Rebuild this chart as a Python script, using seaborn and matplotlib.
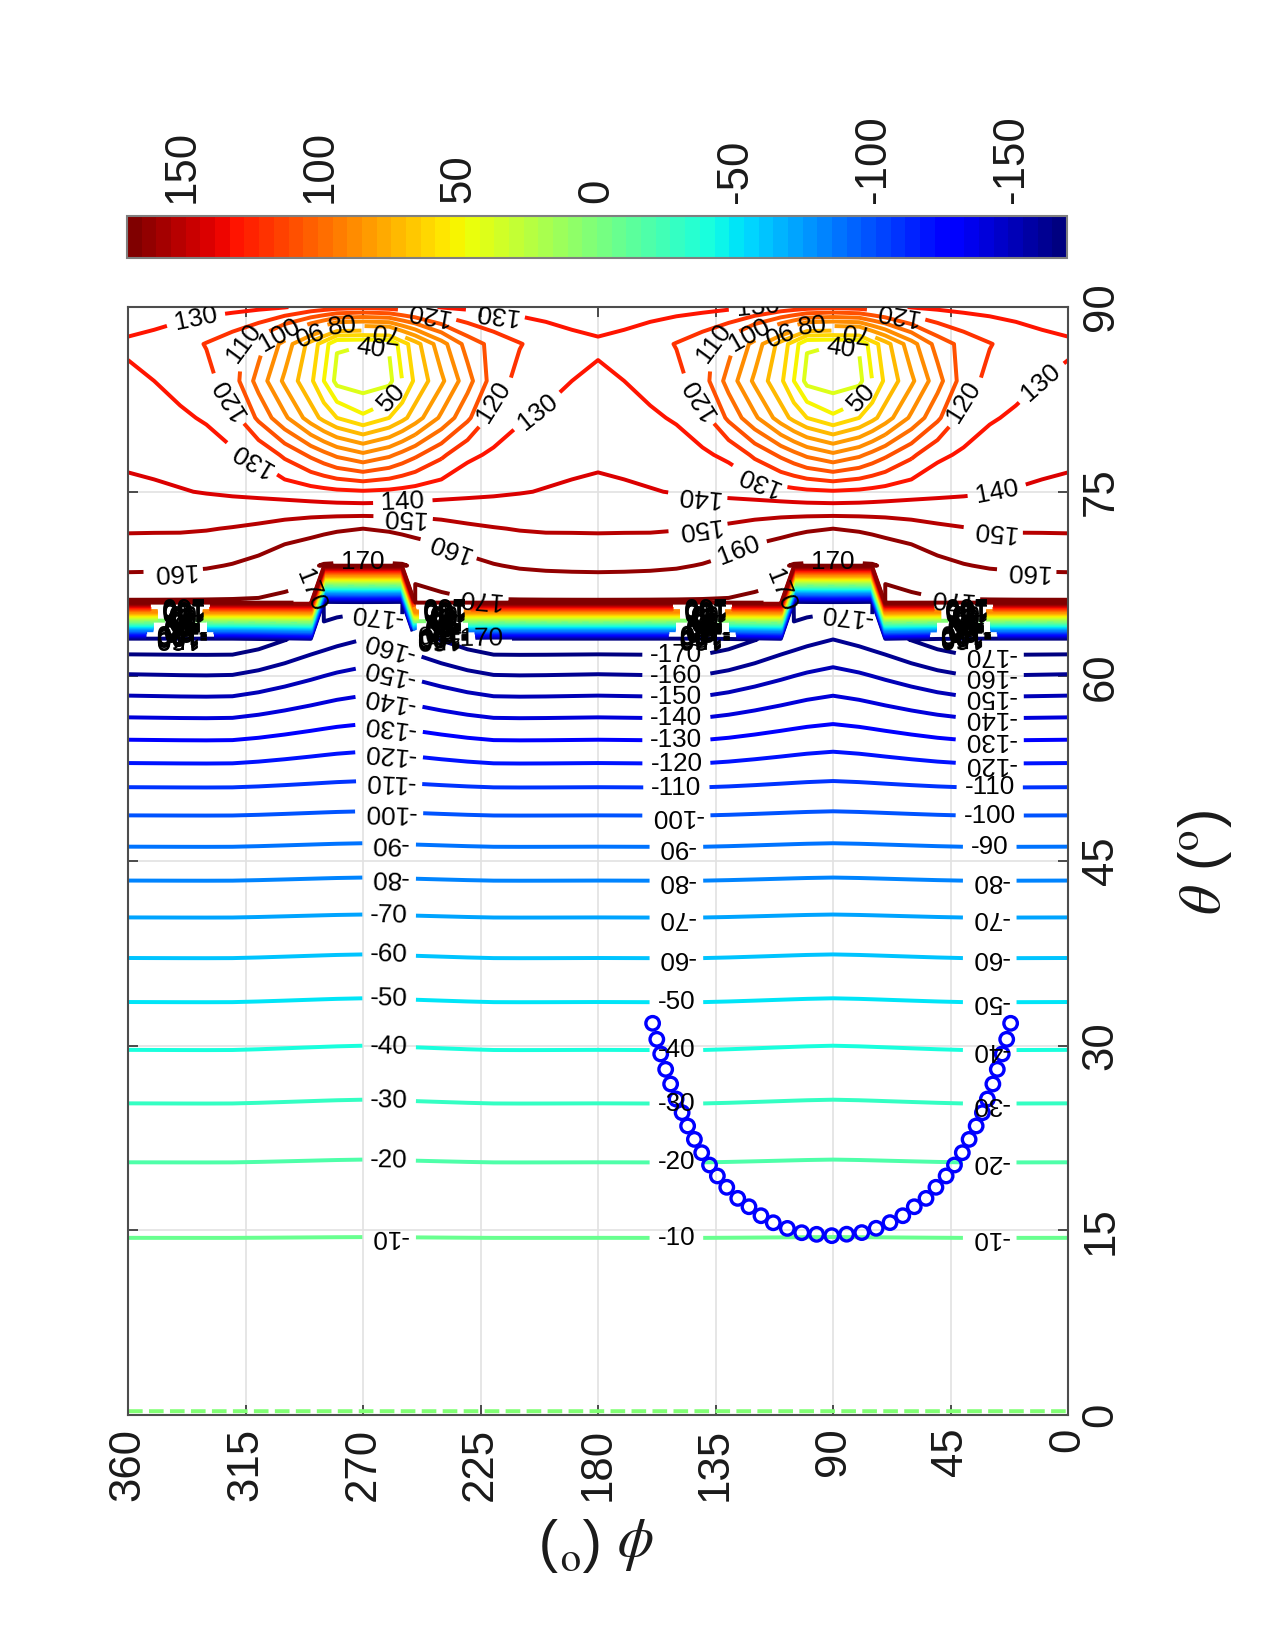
import numpy as np
import matplotlib
matplotlib.use("Agg")
import matplotlib.pyplot as plt
import seaborn as sns
from matplotlib.colors import Normalize
from matplotlib.cm import ScalarMappable

# ---------------- data ----------------
theta_rows = [0, 3, 6, 9, 12, 15, 18, 21, 24, 27, 30, 33, 36, 39, 42, 45, 48, 51, 54, 57, 60,
              63, 66, 69, 72, 75, 78, 81, 84, 87, 90]
# columns of the tables below: angular distance from the lobe centre (phi = 90 / 270)
d_cols = [0, 10, 15, 20, 30, 40, 50, 60, 70, 80, 90]

# lower part (theta 0..60): value between lobes (phi=0/180) and at lobe centre (phi=90/270)
trough_low = [0.05, -0.43, -1.7, -3.85, -6.85, -10.8, -15.7, -20.8, -27.1, -33.7, -40.8,
              -48.5, -56.7, -65.5, -75.0, -85.6, -96.9, -110.0, -125.3, -141.8, -158.9]
peak_low = [0.05, -0.43, -1.7, -3.85, -6.85, -10.7, -15.6, -20.4, -26.5, -33.0, -40.0,
            -47.7, -55.8, -64.7, -74.3, -84.6, -95.8, -107.9, -120.5, -133.9, -146.7]
bump_shape = [1.0, 0.85, 0.74, 0.62, 0.38, 0.15, -0.03, -0.05, -0.04, -0.02, 0.0]

# upper part (theta 63..90), one row per theta, one value per d column
row63 = [-160.0, -162.6, -164.3, -166.0, -170.4, -174.7, -177.5, -177.5, -177.5, -177.5, -177.5]
row66 = [-174.0, -175.0, -176.0, 171.0, 171.0, 171.0, 171.0, 171.0, 171.0, 171.0, 171.0]
row69 = [171.0, 170.8, 170.6, 169.0, 167.5, 163.0, 160.5, 159.0, 158.2, 157.8, 157.6]
row72 = [160.0, 159.0, 158.0, 157.0, 154.5, 152.0, 150.5, 149.5, 149.0, 149.0, 148.9]
row75 = [131.0, 132.0, 133.0, 134.0, 136.0, 137.5, 138.5, 139.5, 140.5, 141.5, 142.2]
row78 = [92.0, 98.0, 103.0, 108.0, 118.0, 128.0, 131.5, 134.5, 136.0, 137.0, 138.0]
row81 = [52.0, 60.0, 67.0, 75.0, 92.0, 108.0, 124.0, 129.0, 131.5, 133.5, 135.0]
row84 = [34.0, 37.0, 50.0, 62.0, 78.0, 96.0, 115.0, 123.0, 127.0, 130.0, 131.3]
row87 = [40.3, 41.0, 55.0, 66.0, 86.0, 104.0, 113.5, 119.5, 124.0, 127.5, 129.0]
row90 = [122.0, 124.0, 125.5, 127.0, 130.5, 132.0, 133.0, 133.5, 134.0, 134.0, 134.0]
top_rows = [row63, row66, row69, row72, row75, row78, row81, row84, row87, row90]

levels = list(range(-170, 171, 10))

marker_phi = [159.1, 157.5, 156.0, 154.1, 152.2, 150.1, 147.8, 145.7, 143.1, 140.3, 137.3,
              134.3, 130.7, 126.5, 122.2, 117.6, 112.9, 107.5, 102.0, 96.3, 90.5, 84.8,
              79.0, 73.5, 68.2, 63.3, 58.9, 54.4, 50.6, 46.7, 43.5, 40.5, 37.9, 35.2,
              32.8, 30.9, 28.8, 27.1, 25.2, 23.5, 22.0]
marker_theta = [31.82, 30.52, 29.33, 28.08, 26.89, 25.67, 24.56, 23.48, 22.39, 21.31, 20.31,
                19.42, 18.50, 17.60, 16.92, 16.19, 15.62, 15.16, 14.81, 14.68, 14.57, 14.69,
                14.82, 15.17, 15.63, 16.19, 16.92, 17.60, 18.50, 19.42, 20.31, 21.31, 22.39,
                23.48, 24.56, 25.67, 26.89, 28.08, 29.33, 30.52, 31.82]

phi_ticks = [0, 45, 90, 135, 180, 225, 270, 315, 360]
theta_ticks = [0, 15, 30, 45, 60, 75, 90]
cbar_ticks = [150, 100, 50, 0, -50, -100, -150]

# contour label placement (phi, theta, level, upside-down)
low_label_levels = [-10, -20, -30, -40, -50, -60, -70, -80, -90, -100, -110, -120, -130,
                    -140, -150, -160, -170]
low_label_cols = {
    260: [1, 0, 0, 0, 0, 0, 0, 1, 1, 1, 1, 1, 1, 1, 1, 1, None],
    150: [0, 0, 0, 0, 0, 1, 1, 1, 1, 1, 0, 0, 0, 0, 0, 0, 0],
    30:  [1, 1, 1, 1, 1, 1, 1, 1, 0, 0, 0, 1, 1, 1, 1, 1, 1],
}
top_labels = [
    (107, 89.6, 130, 0), (66, 89.2, 120, 1), (136, 87.1, 110, 0), (123, 88.1, 100, 0),
    (112, 88.1, 90, 1), (98, 88.1, 80, 0), (82, 88.0, 70, 1), (89, 85.3, 40, 0),
    (84, 83.3, 50, 0), (137, 83.3, 120, 1), (118, 76.4, 130, 1), (53, 84.4, 120, 0),
    (18, 85.6, 130, 0), (142, 74.3, 140, 1), (28, 76.2, 140, 0), (141, 70.8, 150, 1),
    (28.6, 72.0, 150, 1), (122.5, 68.4, 160, 0), (15.8, 68.8, 160, 1), (111.6, 67.0, 170, 0),
    (90, 70.0, 170, 0), (45, 66.6, 170, 1), (84.6, 65.4, -170, 1),
    (333.7, 88.7, 130, 0), (245.6, 89.2, 120, 1), (220, 88.4, 130, 1), (316, 87.1, 110, 0),
    (303, 88.1, 100, 0), (292, 88.1, 90, 1), (278, 88.1, 80, 0), (262, 88.0, 70, 1),
    (269, 85.3, 40, 0), (264, 83.3, 50, 0), (317, 83.3, 120, 1), (312, 77.9, 130, 1),
    (232.6, 84.4, 120, 0), (211, 83.6, 130, 0), (255, 75.1, 140, 0), (254.6, 73.1, 150, 1),
    (238, 70.0, 160, 1), (342.6, 68.1, 160, 1), (225.6, 66.6, 170, 1), (291.5, 67.0, 170, 0),
    (270, 70.0, 170, 0), (264.6, 65.4, -170, 1), (226, 63.1, -170, 0),
]
blob_phis = [340, 240, 140, 40]
blob_levels = list(range(-160, 161, 10))

# ---------------- field table ----------------
phi_grid = sorted({c + s * d for c in (90, 270) for d in d_cols for s in (-1, 1)
                   if 0 <= c + s * d <= 360})
n_low = len(trough_low)
Z = np.zeros((len(theta_rows), len(phi_grid)))
for j, phi in enumerate(phi_grid):
    k = d_cols.index(abs(phi % 180 - 90))
    for i in range(n_low):
        Z[i, j] = trough_low[i] + (peak_low[i] - trough_low[i]) * bump_shape[k]
    for i, row in enumerate(top_rows):
        Z[n_low + i, j] = row[k]


def crossing(phi, level, lo, hi):
    j = phi_grid.index(phi)
    col = Z[:, j]
    for i in range(len(theta_rows) - 1):
        t0, t1 = theta_rows[i], theta_rows[i + 1]
        if t0 < lo or t1 > hi:
            continue
        z0, z1 = col[i], col[i + 1]
        if (z0 - level) * (z1 - level) <= 0 and z0 != z1:
            return t0 + (level - z0) / (z1 - z0) * (t1 - t0)
    return None


# ---------------- figure ----------------
sns.set_style("white")
plt.rcParams["font.family"] = ["Liberation Sans", "DejaVu Sans"]
plt.rcParams["mathtext.fontset"] = "stix"

fig = plt.figure(figsize=(8.5, 11), dpi=150)
ax = fig.add_axes([0.1004, 0.1424, 0.7373, 0.6715])
cax = fig.add_axes([0.0996, 0.8436, 0.7373, 0.0255])

cmap = matplotlib.colormaps["jet"].resampled(64)
norm = Normalize(vmin=-170, vmax=170)

ax.set_xlim(360, 0)
ax.set_ylim(0, 90)
ax.grid(True, color="#e2e2e2", linewidth=0.8)
ax.set_axisbelow(True)

styles = ["dashed" if lev == 0 else "solid" for lev in levels]
CS = ax.contour(phi_grid, theta_rows, Z, levels=levels, cmap=cmap, norm=norm,
                linewidths=1.9, linestyles=styles, zorder=2)

sns.scatterplot(x=marker_phi, y=marker_theta, ax=ax, marker="o", s=42,
                facecolors="none", edgecolors="#0000FF", linewidth=1.6, zorder=4,
                legend=False)

ax.set_xticks(phi_ticks)
ax.set_yticks(theta_ticks)
ax.set_xticklabels([str(v) for v in phi_ticks])
ax.set_yticklabels([str(v) for v in theta_ticks])
ax.tick_params(axis="both", direction="in", length=5, width=0.8, color="#303030",
               labelsize=21, labelcolor="#1a1a1a", pad=6)
ax.tick_params(axis="x", top=True, bottom=True, labelbottom=True, labelrotation=90)
ax.tick_params(axis="y", left=True, right=True, labelleft=False, labelright=True,
               labelrotation=90)
for lbl in ax.get_yticklabels():
    lbl.set_va("center")
for sp in ax.spines.values():
    sp.set_color("#4d4d4d")
    sp.set_linewidth(1.0)
ax.set_xlabel("")
ax.set_ylabel("")

fig.canvas.draw()

# set up labelling for all levels, then place each label by hand
CS.clabel(levels, manual=[], inline=True, inline_spacing=8, fmt="%d", fontsize=12.5,
          colors="k")
base_levels = list(CS.labelLevelList)
all_indices = list(CS.labelIndiceList)


def put_label(phi, theta, level, flip):
    idx = levels.index(level)
    lst = list(base_levels)
    lst[0] = base_levels[idx]
    CS.labelLevelList = lst
    CS.labelIndiceList = [idx]
    CS.add_label_near(phi, theta, inline=True, inline_spacing=8)
    CS.labelLevelList = base_levels
    CS.labelIndiceList = all_indices
    t = CS.labelTexts[-1]
    if flip:
        t.set_rotation(t.get_rotation() + 180)


for phi, flags in low_label_cols.items():
    for lev, fl in zip(low_label_levels, flags):
        if fl is None:
            continue
        th = crossing(phi, lev, 0, 63)
        if th is not None:
            put_label(phi, th, lev, fl)

for phi, th, lev, fl in top_labels:
    put_label(phi, th, lev, fl)

for phi in blob_phis:
    for lev in blob_levels:
        th = crossing(phi, lev, 63, 66)
        if th is not None:
            put_label(phi, th, lev, 1)

# colorbar
sm = ScalarMappable(norm=norm, cmap=cmap)
sm.set_array([])
cb = fig.colorbar(sm, cax=cax, orientation="horizontal")
cax.invert_xaxis()
cb.set_ticks(cbar_ticks)
cb.set_ticklabels([str(v) for v in cbar_ticks])
cax.xaxis.set_ticks_position("top")
cax.tick_params(axis="x", direction="in", length=5, width=0.8, color="#303030",
                labelsize=21, labelcolor="#1a1a1a", labelrotation=90, pad=6,
                top=True, bottom=False)
cb.outline.set_edgecolor("#7f7f7f")
cb.outline.set_linewidth(1.0)

# axis titles (rotated like the reference)
fig.text(0.9451, 0.4776, r"$\theta$ ($^{\rm o}$)", rotation=90, ha="center", va="center",
         fontsize=28, color="#1a1a1a")
fig.text(0.469, 0.0642, r"$\phi$ ($^{\rm o}$)", rotation=180, ha="center", va="center",
         fontsize=28, color="#1a1a1a")

fig.savefig("out.png", dpi=150, facecolor="white")
